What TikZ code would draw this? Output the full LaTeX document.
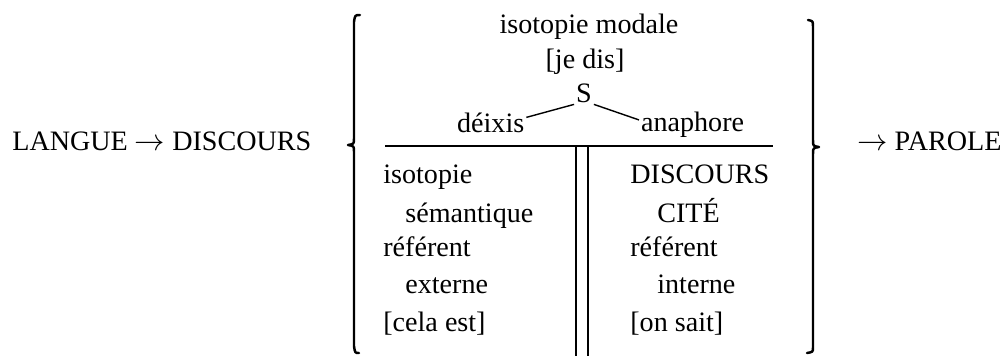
\documentclass[tikz,border=0pt]{standalone}
\usepackage{fontspec}
\setmainfont{Liberation Serif}

\tikzset{
	txt/.style={inner sep=0pt, anchor=base west, font=\fontsize{16}{19}\selectfont},
	ctxt/.style={txt, anchor=base},
	rule/.style={line width=1.1pt},
	brace/.style={line width=1.4pt, line cap=round, line join=round},
}

\begin{document}
\begin{tikzpicture}[x=0.02cm, y=-0.02cm]
		\useasboundingbox (0, 0) rectangle (1008, 356);
		% outer terms
		\node[txt] (langue) at (12, 150) {LANGUE $\rightarrow$ DISCOURS};
		\node[txt] (parole) at (857, 150) {$\rightarrow$ PAROLE};
		% braces
		\draw[brace] (360, 15) .. controls (355, 15) .. (354, 22) -- (354, 138) .. controls (354, 144) .. (348, 145) .. controls (354, 146) .. (354, 152) -- (354, 346) .. controls (355, 353) .. (359, 353);
		\draw[brace] (808, 20) .. controls (813, 21) .. (813, 27) -- (813, 140) .. controls (813, 146) .. (819, 147) .. controls (813, 148) .. (813, 154) -- (813, 347) .. controls (813, 352) .. (807, 353);
		% upper part
		\node[ctxt] (modale) at (589, 33) {isotopie modale};
		\node[ctxt] (jedis) at (585, 68) {[je dis]};
		\node[ctxt, inner sep=1pt] (s) at (584, 102) {S};
		\node[txt, inner sep=1pt] (deixis) at (455, 132) {déixis};
		\node[txt, inner sep=1pt] (anaphore) at (639, 131) {anaphore};
		\draw[line width=0.8pt] (s.south west) -- ([yshift=-4pt]deixis.north east);
		\draw[line width=0.8pt] (s.south east) -- ([yshift=-6pt]anaphore.north west);
		% table
		\coordinate (hl) at (385, 146);
		\coordinate (hr) at (773, 146);
		\draw[rule] (hl) -- (hr);
		\draw[line width=1pt] (576, 146) -- (576, 356) (588, 146) -- (588, 356);
		\node[txt] (isoL) at (383, 183) {isotopie};
		\node[txt] (semL) at (405, 222) {sémantique};
		\node[txt] (refL) at (383, 256) {référent};
		\node[txt] (extL) at (405, 293) {externe};
		\node[txt] (estL) at (383, 331) {[cela est]};
		\node[txt] (discR) at (630, 183) {DISCOURS};
		\node[txt] (citeR) at (657, 222) {CITÉ};
		\node[txt] (refR) at (630, 256) {référent};
		\node[txt] (intR) at (657, 293) {interne};
		\node[txt] (saitR) at (630, 331) {[on sait]};
	\end{tikzpicture}
\end{document}
